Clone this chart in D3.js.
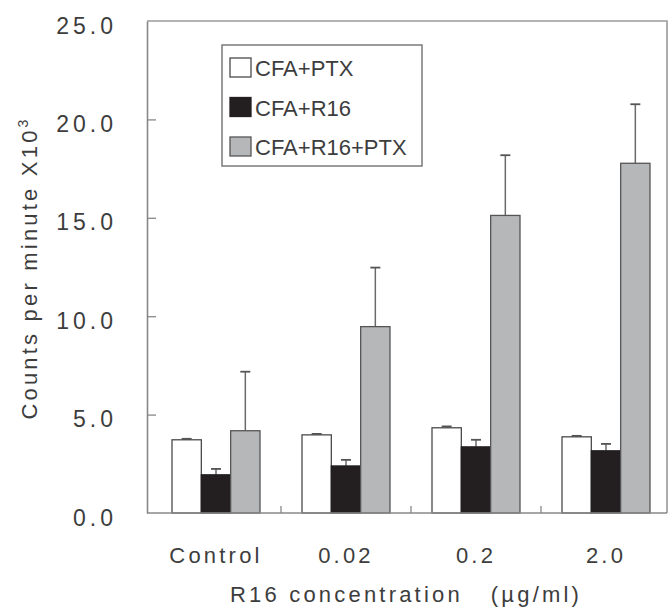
<!DOCTYPE html>
<html>
<head>
<meta charset="utf-8">
<script src="https://cdn.jsdelivr.net/npm/d3@7"></script>
<style>
  html, body { margin: 0; padding: 0; background: #fff; }
  svg { display: block; }
  text { font-family: "Liberation Sans", Arial, sans-serif; fill: #3d3d3d; }
</style>
</head>
<body>
<svg id="chart" width="668" height="608"></svg>
<script>
// ---- data ----
const categories = ["Control", "0.02", "0.2", "2.0"];
const seriesNames = ["CFA+PTX", "CFA+R16", "CFA+R16+PTX"];
const cfaPtx = [3.72, 3.97, 4.33, 3.87];
const cfaPtxErr = [0.05, 0.05, 0.07, 0.05];
const cfaR16 = [1.94, 2.39, 3.36, 3.16];
const cfaR16Err = [0.30, 0.31, 0.36, 0.35];
const cfaR16Ptx = [4.18, 9.47, 15.12, 17.77];
const cfaR16PtxErr = [3.00, 3.00, 3.06, 3.00];
const yTickValues = [0, 5, 10, 15, 20, 25];
const xTitle = "R16 concentration\u00a0\u00a0\u00a0(\u00b5g/ml)";
const yTitle = "Counts per minute X10";
const yTitleSup = "3";

const seriesValues = [cfaPtx, cfaR16, cfaR16Ptx];
const seriesErrors = [cfaPtxErr, cfaR16Err, cfaR16PtxErr];
const fills = ["#ffffff", "#231f20", "#b6b7b9"];
const strokes = ["#4a4a4a", "#231f20", "#555555"];

// ---- layout ----
const svg = d3.select("#chart");
const mLeft = 147, mRight = 667, mTop = 21, mBottom = 513;

const x0 = d3.scaleBand().domain(categories).range([151, 671]).padding(0);
const x1 = d3.scaleBand().domain(seriesNames).range([21, 109]).padding(0);
const y = d3.scaleLinear().domain([0, 25]).range([mBottom, mTop]);

// frame (top + right)
svg.append("path")
  .attr("d", `M${mLeft},${mTop}H${mRight}V${mBottom}`)
  .attr("fill", "none").attr("stroke", "#9a9a9a").attr("stroke-width", 1.6);

// bars
const rows = [];
seriesNames.forEach((s, si) => {
  categories.forEach((c, ci) => {
    rows.push({ s, si, c, v: seriesValues[si][ci], e: seriesErrors[si][ci] });
  });
});

const g = svg.append("g");
g.selectAll("line.err").data(rows).join("line")
  .attr("class", "err")
  .attr("x1", d => x0(d.c) + x1(d.s) + x1.bandwidth() / 2)
  .attr("x2", d => x0(d.c) + x1(d.s) + x1.bandwidth() / 2)
  .attr("y1", d => y(d.v))
  .attr("y2", d => y(d.v + d.e))
  .attr("stroke", "#6a6a6a").attr("stroke-width", 1.5);
g.selectAll("line.cap").data(rows).join("line")
  .attr("class", "cap")
  .attr("x1", d => x0(d.c) + x1(d.s) + x1.bandwidth() / 2 - 5)
  .attr("x2", d => x0(d.c) + x1(d.s) + x1.bandwidth() / 2 + 5)
  .attr("y1", d => y(d.v + d.e))
  .attr("y2", d => y(d.v + d.e))
  .attr("stroke", "#555").attr("stroke-width", 1.8);

g.selectAll("rect.bar").data(rows).join("rect")
  .attr("class", "bar")
  .attr("x", d => x0(d.c) + x1(d.s))
  .attr("y", d => y(d.v))
  .attr("width", x1.bandwidth())
  .attr("height", d => y(0) - y(d.v))
  .attr("fill", d => fills[d.si])
  .attr("stroke", d => strokes[d.si])
  .attr("stroke-width", 1.3);

// y axis
const yAxis = d3.axisLeft(y).tickValues(yTickValues)
  .tickFormat(d3.format(".1f")).tickSizeInner(-9).tickSizeOuter(0).tickPadding(30);
const ya = svg.append("g").attr("transform", `translate(${mLeft},0)`).call(yAxis);
ya.select(".domain").attr("stroke", "#888").attr("stroke-width", 1.6);
ya.selectAll(".tick line").attr("stroke", "#888").attr("stroke-width", 1.3);
ya.selectAll(".tick text")
  .attr("dy", "12px")
  .style("font-size", "23px").style("letter-spacing", "4px")
  .attr("fill", "#3d3d3d");
ya.selectAll(".tick").filter(d => d === 0 || d === 25).select("line").remove();

// x axis (labels at group centers)
const xAxis = d3.axisBottom(x0).tickSizeInner(0).tickSizeOuter(0).tickPadding(0);
const xa = svg.append("g").attr("transform", `translate(0,${mBottom})`).call(xAxis);
xa.select(".domain").remove();
xa.selectAll(".tick text")
  .attr("dy", "50px").attr("y", 0)
  .style("font-size", "22px").style("letter-spacing", "3.2px")
  .attr("fill", "#3d3d3d");

// baseline
svg.append("line").attr("x1", mLeft).attr("x2", mRight)
  .attr("y1", mBottom).attr("y2", mBottom)
  .attr("stroke", "#888").attr("stroke-width", 1.6);

// boundary ticks between groups (inward)
svg.selectAll("line.xtick").data(categories.slice(1)).join("line")
  .attr("class", "xtick")
  .attr("x1", d => x0(d)).attr("x2", d => x0(d))
  .attr("y1", mBottom).attr("y2", mBottom - 7)
  .attr("stroke", "#888").attr("stroke-width", 1.3);

// x title
svg.append("text")
  .attr("x", 406).attr("y", 602)
  .attr("text-anchor", "middle")
  .style("font-size", "22px").style("letter-spacing", "3.2px")
  .text(xTitle);

// y title
const yt = svg.append("text")
  .attr("transform", "translate(37,268) rotate(-90)")
  .attr("text-anchor", "middle")
  .style("font-size", "22px").style("letter-spacing", "3.2px");
yt.append("tspan").text(yTitle);
yt.append("tspan").attr("dy", "-9").style("font-size", "14px").text(yTitleSup);

// legend
const lg = svg.append("g");
lg.append("rect").attr("x", 222).attr("y", 45).attr("width", 200).attr("height", 121)
  .attr("fill", "#fff").attr("stroke", "#7a7a7a").attr("stroke-width", 1.5);
const li = lg.selectAll("g.item").data(seriesNames).join("g")
  .attr("class", "item")
  .attr("transform", (d, i) => `translate(230,${58 + i * 39.5})`);
li.append("rect").attr("width", 21).attr("height", 19)
  .attr("fill", (d, i) => fills[i]).attr("stroke", (d, i) => strokes[i]).attr("stroke-width", 1.3);
li.append("text").attr("x", 25).attr("y", 18)
  .style("font-size", "22px").text(d => d);
</script>
</body>
</html>
